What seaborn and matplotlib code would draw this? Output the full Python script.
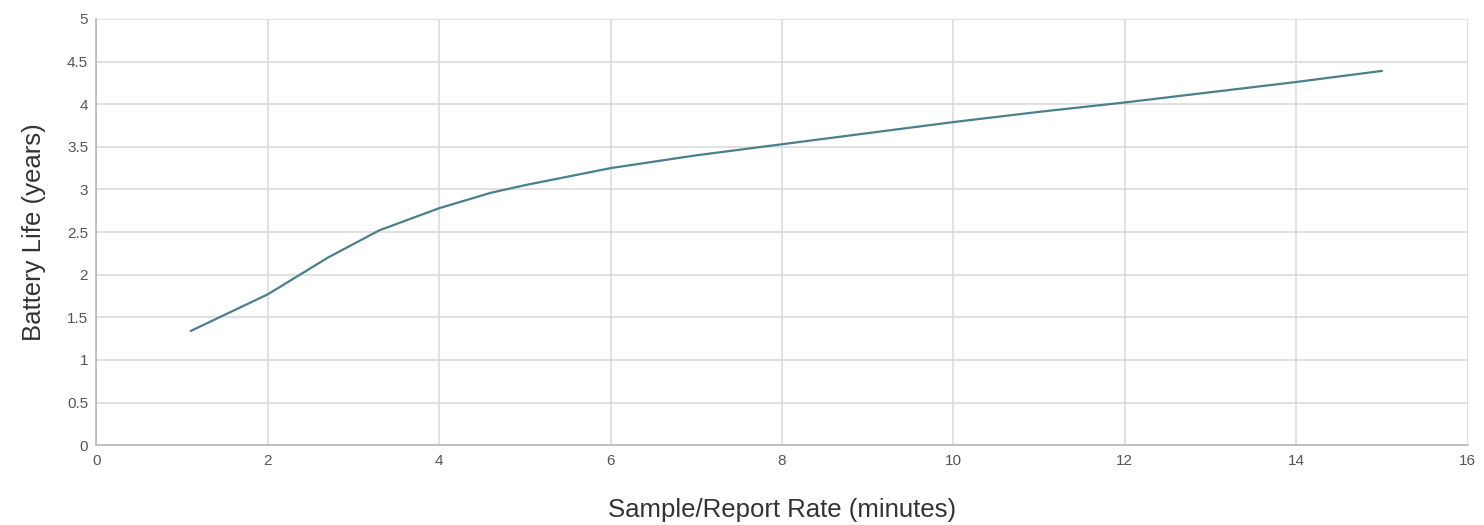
import matplotlib
matplotlib.use("Agg")
import matplotlib.pyplot as plt
import seaborn as sns
import pandas as pd

# sample/report rate (minutes) vs battery life (years)
rate_minutes = [1.1, 2, 2.7, 3.3, 4, 4.6, 5, 6, 7, 8, 9, 10, 11, 12, 13, 14, 15]
battery_years = [1.34, 1.77, 2.2, 2.52, 2.78, 2.96, 3.05, 3.25, 3.40, 3.53,
                 3.66, 3.79, 3.91, 4.02, 4.14, 4.26, 4.39]

x_ticks = list(range(0, 17, 2))
y_ticks = [0, 0.5, 1, 1.5, 2, 2.5, 3, 3.5, 4, 4.5, 5]
y_tick_labels = ["0", "0.5", "1", "1.5", "2", "2.5", "3", "3.5", "4", "4.5", "5"]

df = pd.DataFrame({"rate": rate_minutes, "life": battery_years})

sns.set_theme(style="whitegrid")
plt.rcParams['font.family'] = ['Liberation Sans', 'DejaVu Sans']

fig = plt.figure(figsize=(14.84, 5.25), dpi=100)
ax = fig.add_axes([0.065, 0.152, 0.924, 0.812])

sns.lineplot(data=df, x="rate", y="life", color="#4a7f8c", linewidth=1.6, ax=ax)

ax.set_xlim(0, 16)
ax.set_ylim(0, 5)
ax.set_xticks(x_ticks)
ax.set_yticks(y_ticks)
ax.set_yticklabels(y_tick_labels)
ax.tick_params(axis="both", labelsize=11, labelcolor="#555555", length=0, pad=6)

ax.grid(True, color="#dcdcdc", linewidth=1.2)
for side in ["top", "right"]:
    ax.spines[side].set_visible(False)
for side in ["left", "bottom"]:
    ax.spines[side].set_visible(True)
    ax.spines[side].set_color("#b8b8b8")
    ax.spines[side].set_linewidth(1.2)

ax.set_xlabel("Sample/Report Rate (minutes)", fontsize=18.5, color="#333333", labelpad=22)
ax.set_ylabel("Battery Life (years)", fontsize=18.5, color="#333333", labelpad=15)

fig.savefig("out.png", dpi=100)
